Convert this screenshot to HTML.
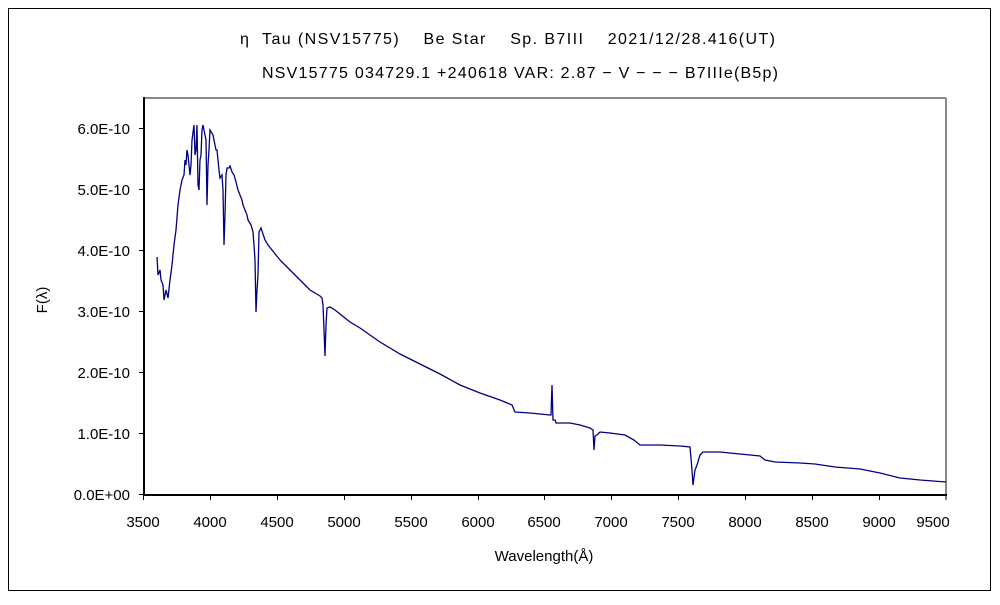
<!DOCTYPE html>
<html><head><meta charset="utf-8"><style>
body{margin:0;background:#fff;}
text{font-family:"Liberation Sans","Noto Sans CJK JP",sans-serif;fill:#000;}
</style></head><body>
<svg width="1000" height="600" viewBox="0 0 1000 600" xmlns="http://www.w3.org/2000/svg">
<rect x="0" y="0" width="1000" height="600" fill="#fff"/>
<rect x="8.5" y="8.5" width="982" height="582" fill="none" stroke="#000" stroke-width="1"/>
<text x="240" y="44" font-size="16" textLength="535" lengthAdjust="spacing" xml:space="preserve">η  Tau (NSV15775)    Be Star    Sp. B7III    2021/12/28.416(UT)</text>
<text x="262" y="78" font-size="16" textLength="516" lengthAdjust="spacing">NSV15775 034729.1 +240618 VAR: 2.87 − V − − − B7IIIe(B5p)</text>
<line x1="143.5" y1="98" x2="946" y2="98" stroke="#888" stroke-width="2"/>
<line x1="946" y1="98" x2="946" y2="495" stroke="#888" stroke-width="2"/>
<line x1="144" y1="97" x2="144" y2="496" stroke="#000" stroke-width="2"/>
<line x1="143" y1="495" x2="947" y2="495" stroke="#000" stroke-width="2"/>
<g stroke="#000" stroke-width="1">
<line x1="139" y1="128.5" x2="144" y2="128.5"/><line x1="139" y1="189.5" x2="144" y2="189.5"/>
<line x1="139" y1="250.5" x2="144" y2="250.5"/><line x1="139" y1="311.5" x2="144" y2="311.5"/>
<line x1="139" y1="372.5" x2="144" y2="372.5"/><line x1="139" y1="433.5" x2="144" y2="433.5"/>
<line x1="139" y1="494.5" x2="144" y2="494.5"/>
<line x1="210.5" y1="495" x2="210.5" y2="500"/><line x1="277.5" y1="495" x2="277.5" y2="500"/>
<line x1="344.5" y1="495" x2="344.5" y2="500"/><line x1="411.5" y1="495" x2="411.5" y2="500"/>
<line x1="478.5" y1="495" x2="478.5" y2="500"/><line x1="544.5" y1="495" x2="544.5" y2="500"/>
<line x1="611.5" y1="495" x2="611.5" y2="500"/><line x1="678.5" y1="495" x2="678.5" y2="500"/>
<line x1="745.5" y1="495" x2="745.5" y2="500"/><line x1="812.5" y1="495" x2="812.5" y2="500"/>
<line x1="879.5" y1="495" x2="879.5" y2="500"/><line x1="143.5" y1="495" x2="143.5" y2="500"/><line x1="946" y1="495" x2="946" y2="500"/>
</g>
<g font-size="15" text-anchor="end">
<text x="130" y="134">6.0E-10</text><text x="130" y="195">5.0E-10</text>
<text x="130" y="256">4.0E-10</text><text x="130" y="317">3.0E-10</text>
<text x="130" y="378">2.0E-10</text><text x="130" y="439">1.0E-10</text>
<text x="130" y="500">0.0E+00</text>
</g>
<g font-size="15" text-anchor="middle">
<text x="143" y="527">3500</text><text x="210" y="527">4000</text><text x="277" y="527">4500</text>
<text x="344" y="527">5000</text><text x="411" y="527">5500</text><text x="478" y="527">6000</text>
<text x="544" y="527">6500</text><text x="611" y="527">7000</text><text x="678" y="527">7500</text>
<text x="745" y="527">8000</text><text x="812" y="527">8500</text><text x="879" y="527">9000</text>
<text x="933" y="527">9500</text>
</g>
<text x="544" y="561" font-size="15" text-anchor="middle">Wavelength(Å)</text>
<text transform="translate(47,300) rotate(-90)" font-size="15" text-anchor="middle">F(λ)</text>
<polyline fill="none" stroke="#000080" stroke-width="1.3" stroke-linejoin="miter" points="157,257 158,275 160,270 161,280 163,285 164,300 166,290 168,298 170,280 172,265 174,245 176,230 178,205 180,190 182,180 184,175 185,160 186,165 187,150 188,155 190,175 191,165 192,140 194,125 195,155 196,150 197,125 198,185 199,190 200,160 201,155 202,130 203,125 205,135 206,140 207,205 208,165 209,150 210,130 213,135 214,140 215,145 216,150 217,150 219,170 220,178 222,175 223,190 224,245 225,215 226,175 227,168 229,168 230,166 232,172 234,175 236,182 238,190 240,195 242,200 243,205 245,210 247,215 248,220 251,225 253,232 254,245 255,260 256,312 257,290 258,275 259,232 261,228 263,234 265,240 268,245 272,250 276,255 280,260 285,265 290,270 295,275 300,280 305,285 310,290 315,293 320,296 322,298 323,305 324,330 325,356 326,325 327,308 330,307 335,310 340,314 345,318 350,322 360,328 370,335 380,342 390,348 400,354 420,364 440,374 460,385 480,393 500,400 512,405 515,412 530,413 550,415 551,415 552,385 553,420 555,420 556,423 570,423 580,425 590,428 593,430 594,450 595,436 597,435 600,432 610,433 625,435 634,440 640,445 660,445 680,446 690,447 692,470 693,485 695,470 697,465 700,455 703,452 720,452 740,454 760,456 765,460 775,462 800,463 815,464 835,467 860,469 880,473 900,478 920,480 946,482"/>
</svg>
</body></html>
